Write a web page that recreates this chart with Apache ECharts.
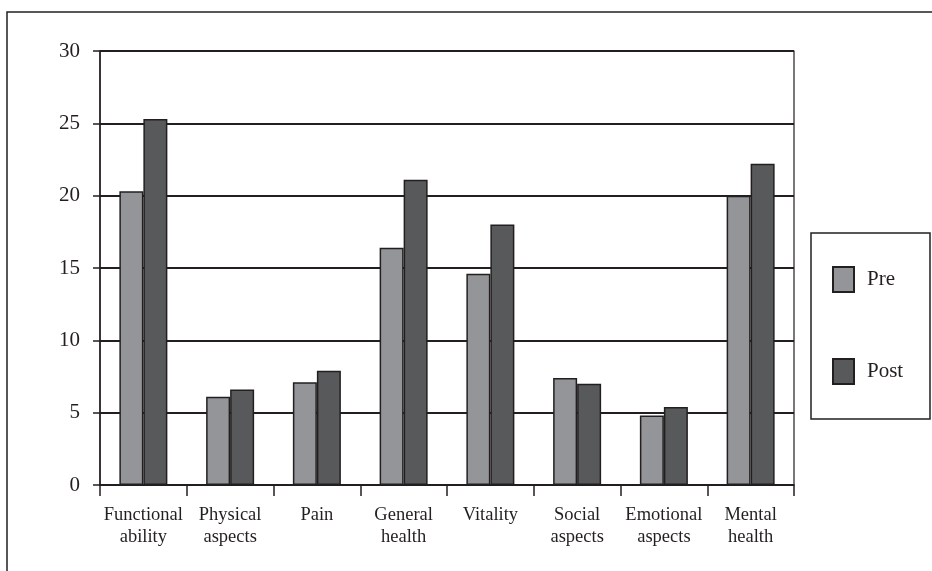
<!DOCTYPE html>
<html>
<head>
<meta charset="utf-8">
<script src="https://cdn.jsdelivr.net/npm/echarts@6/dist/echarts.min.js"></script>
<style>html,body{margin:0;padding:0;background:#fff;}#c{width:932px;height:571px;}</style>
</head>
<body>
<div id="c"></div>
<script>
var categories = ['Functional\nability', 'Physical\naspects', 'Pain', 'General\nhealth', 'Vitality', 'Social\naspects', 'Emotional\naspects', 'Mental\nhealth'];
var preValues = [20.3, 6.1, 7.1, 16.4, 14.6, 7.4, 4.8, 20.0];
var postValues = [25.3, 6.6, 7.9, 21.1, 18.0, 7.0, 5.4, 22.2];
var seriesNames = ['Pre', 'Post'];

var ink = '#231f20';
var font = 'Liberation Serif';
var chart = echarts.init(document.getElementById('c'));
chart.setOption({
  animation: false,
  backgroundColor: '#fff',
  textStyle: { fontFamily: font, color: ink },
  grid: { left: 100, right: 138, top: 51, bottom: 86, show: true, borderColor: ink, borderWidth: 1.2, backgroundColor: 'transparent' },
  legend: {
    orient: 'vertical', left: 832, top: 266, itemWidth: 21, itemHeight: 25, itemGap: 65, padding: 0,
    icon: 'rect', selectedMode: false,
    textStyle: { fontFamily: font, fontSize: 21, color: ink, padding: [0, 0, 0, 8] },
    data: seriesNames
  },
  xAxis: {
    type: 'category', data: categories,
    axisLine: { lineStyle: { color: ink, width: 1.5 } },
    axisTick: { show: true, length: 11, lineStyle: { color: ink, width: 1.5 } },
    axisLabel: { fontFamily: font, fontSize: 18.5, color: ink, margin: 19, lineHeight: 22, interval: 0 }
  },
  yAxis: {
    type: 'value', min: 0, max: 30, interval: 5,
    axisLine: { show: true, lineStyle: { color: ink, width: 1.5 } },
    axisTick: { show: true, length: 7, lineStyle: { color: ink, width: 1.5 } },
    axisLabel: { fontFamily: font, fontSize: 21, color: ink, margin: 20 },
    splitLine: { show: true, lineStyle: { color: ink, width: 2 } }
  },
  graphic: [
    { type: 'polyline', shape: { points: [[7, 571], [7, 12], [932, 12]] }, style: { stroke: ink, lineWidth: 1.5, fill: null }, z: 10 },
    { type: 'rect', shape: { x: 811, y: 233, width: 119, height: 186 }, style: { stroke: ink, lineWidth: 1.5, fill: null }, z: 10 }
  ],
  series: [
    { name: seriesNames[0], type: 'bar', data: preValues, barWidth: 24, barGap: '0%',
      itemStyle: { color: '#939598', borderColor: ink, borderWidth: 1.5 } },
    { name: seriesNames[1], type: 'bar', data: postValues, barWidth: 24, barGap: '0%',
      itemStyle: { color: '#58595b', borderColor: ink, borderWidth: 1.5 } }
  ]
});
</script>
</body>
</html>
